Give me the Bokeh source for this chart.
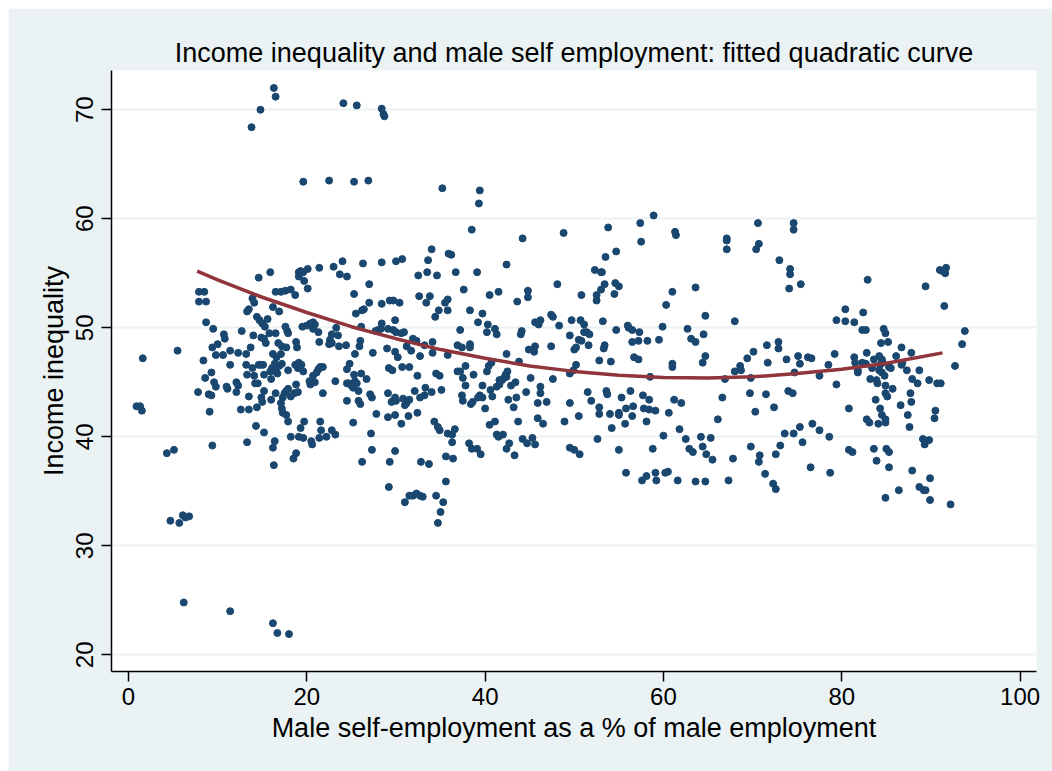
from bokeh.plotting import figure
from bokeh.models import Range1d, FixedTicker
from bokeh.embed import file_html
from bokeh.resources import INLINE

# ---- data ----
# top outliers
top_x = [16.3, 16.5, 14.8, 13.8, 24.1, 25.6, 28.4, 28.6, 28.7, 19.6, 22.5, 25.3, 26.9, 35.2]
top_y = [72.0, 71.2, 70.0, 68.4, 70.6, 70.4, 70.1, 69.6, 69.4, 63.4, 63.5, 63.4, 63.5, 62.8]

# left part, upper band
lu_x = [34.0, 35.9, 7.9, 8.5, 7.9, 8.7, 8.7, 9.5, 10.7, 10.8,
        1.6, 5.5, 8.4, 9.4, 10.0, 9.8, 10.6, 11.4, 12.3, 12.7,
        13.2, 13.7, 14.0, 13.3, 13.5, 13.9, 14.1, 14.4, 14.7, 15.0,
        14.6, 15.9, 15.6, 15.3, 15.8, 14.9, 15.2, 15.4, 16.2, 16.9,
        16.5, 17.1, 17.6, 18.2, 18.7, 16.5, 16.8, 17.2, 17.7, 16.2,
        16.6, 17.1, 17.6, 17.8, 17.9, 18.8, 18.9, 19.1, 19.3, 19.6,
        20.1, 19.1, 19.7, 20.1, 19.5, 20.0, 20.4, 20.7, 20.9, 21.3,
        20.7, 21.4, 23.0, 23.7, 24.5, 24.0, 26.3, 28.4, 30.0, 30.7,
        33.6, 32.5, 33.5, 34.6, 25.3, 27.0, 27.0, 28.4, 29.3, 29.7,
        30.4, 26.2, 26.4, 25.5, 28.4, 28.3, 28.0, 27.7, 29.9, 29.1,
        29.7, 30.0, 30.6, 30.9, 26.1, 23.3, 22.8, 23.5, 22.6, 22.5,
        22.8, 23.6, 24.4, 21.4, 26.0, 25.9, 25.4, 27.4, 29.0, 29.9,
        30.2, 31.2, 31.7, 31.9, 32.3, 32.7, 33.2, 34.1, 34.1, 35.8,
        32.6, 33.8, 33.4, 34.4, 34.8, 35.8, 35.5, 35.8]
lu_y = [57.2, 56.8, 53.3, 53.3, 52.4, 52.4, 50.5, 49.9, 49.4, 49.0,
        47.2, 47.9, 47.0, 48.2, 48.5, 47.5, 47.5, 47.9, 47.7, 49.7,
        47.6, 48.2, 49.3, 51.5, 51.7, 52.7, 52.3, 51.0, 50.7, 50.4,
        54.6, 55.1, 50.8, 50.1, 49.5, 49.1, 49.0, 48.6, 51.9, 51.5,
        53.3, 53.3, 53.4, 53.5, 53.0, 49.5, 48.6, 48.3, 48.2, 47.6,
        47.3, 47.6, 50.1, 49.7, 49.5, 48.7, 48.2, 55.1, 55.2, 55.1,
        55.4, 54.7, 54.3, 53.6, 50.1, 50.2, 50.4, 50.5, 50.3, 49.6,
        49.9, 55.5, 55.6, 54.9, 54.7, 56.1, 55.9, 56.0, 56.1, 56.3,
        56.2, 54.8, 55.1, 54.8, 53.1, 54.0, 52.3, 52.2, 52.5, 52.5,
        52.3, 51.6, 51.7, 51.3, 50.4, 49.9, 49.8, 49.7, 50.7, 49.9,
        49.8, 49.6, 49.5, 49.6, 50.1, 50.0, 49.4, 49.3, 48.9, 48.5,
        48.6, 48.3, 48.4, 48.7, 48.8, 48.3, 47.6, 47.7, 48.1, 47.8,
        47.3, 48.3, 47.9, 49.0, 48.8, 47.4, 48.4, 47.7, 48.7, 47.5,
        52.9, 52.9, 52.3, 51.0, 51.6, 51.6, 52.3, 52.6]

# left part, lower band
ll_x = [8.6, 9.3, 7.8, 9.6, 9.8, 9.0, 9.3, 9.1, 9.4, 11.0,
        11.1, 11.4, 12.1, 12.1, 12.3, 12.6, 13.3, 13.2, 13.5, 13.5,
        13.3, 13.9, 14.1, 14.2, 14.5, 14.3, 14.4, 14.6, 14.8, 15.1,
        14.9, 15.0, 15.2, 15.2, 15.2, 15.9, 16.1, 16.4, 16.0, 16.0,
        16.2, 16.4, 16.3, 16.5, 16.5, 16.7, 16.9, 17.2, 17.1, 17.3,
        17.5, 17.7, 17.9, 18.2, 18.6, 19.0, 17.2, 17.3, 17.7, 17.9,
        17.9, 18.2, 18.5, 18.8, 18.8, 18.7, 19.0, 19.1, 19.4, 19.6,
        19.3, 19.1, 19.6, 19.7, 20.3, 20.4, 20.5, 20.6, 20.7, 20.9,
        21.1, 21.3, 21.5, 21.8, 21.8, 21.4, 21.6, 22.2, 22.8, 23.2,
        21.5, 23.2, 24.5, 24.8, 24.5, 24.7, 25.0, 25.2, 25.4, 25.6,
        25.8, 25.3, 26.1, 26.7, 24.5, 25.8, 26.0, 25.2, 27.1, 27.3,
        27.2, 27.3, 26.2, 27.8, 29.1, 29.7, 29.9, 30.0, 29.5, 29.2,
        29.6, 30.7, 31.5, 29.1, 29.9, 30.6, 30.8, 31.0, 31.2, 31.5,
        31.4, 32.4, 32.1, 32.7, 33.2, 32.4, 33.3, 34.0, 34.5, 34.9,
        35.1, 34.3, 34.7, 34.9, 35.8, 35.6, 35.6, 29.9, 29.3, 32.8,
        33.7, 29.2, 31.0, 31.5, 31.9, 32.3, 32.7, 33.0, 34.5, 35.3, 35.0, 34.7]
ll_y = [45.4, 45.9, 44.1, 45.0, 44.6, 43.9, 43.8, 42.3, 39.2, 44.6,
        44.4, 46.6, 44.1, 45.0, 44.7, 42.5, 45.7, 46.6, 43.7, 42.5,
        39.5, 46.3, 45.6, 44.9, 44.9, 41.0, 42.7, 46.6, 46.6, 46.6,
        43.6, 43.2, 40.4, 44.2, 45.7, 46.0, 46.3, 46.7, 45.3, 43.4,
        39.0, 39.6, 37.4, 44.0, 46.0, 45.8, 46.5, 46.7, 43.1, 43.6,
        44.0, 44.2, 44.4, 43.7, 44.0, 44.1, 42.6, 42.2, 42.0, 41.4,
        46.1, 40.0, 38.0, 38.5, 44.8, 46.6, 46.3, 46.8, 46.6, 46.0,
        40.8, 40.0, 39.9, 41.4, 45.1, 44.8, 39.6, 39.3, 45.6, 45.0,
        45.9, 46.2, 46.4, 46.4, 44.0, 39.9, 40.6, 40.0, 40.6, 40.2,
        41.4, 45.1, 46.2, 46.7, 44.9, 44.9, 44.7, 44.5, 45.1, 44.9,
        44.2, 45.7, 45.8, 45.3, 43.3, 43.3, 43.0, 41.3, 43.9, 43.6,
        40.3, 38.8, 37.7, 42.1, 44.0, 43.3, 43.6, 43.3, 43.2, 46.3,
        46.1, 46.4, 46.4, 41.8, 42.0, 41.2, 43.5, 42.9, 43.1, 43.4,
        41.9, 42.2, 44.2, 43.6, 43.8, 45.6, 44.5, 44.1, 45.8, 45.6,
        44.3, 41.4, 40.9, 40.6, 40.3, 38.2, 35.9, 38.7, 37.7, 37.7,
        37.5, 35.4, 34.0, 34.6, 34.6, 34.8, 34.6, 34.5, 34.6, 34.0, 33.1, 32.1]

# low outliers on the left
low_x = [0.9, 1.3, 1.5, 4.3, 5.1, 4.7, 5.7, 6.1, 6.4, 6.8, 6.2, 11.4, 16.2, 16.7, 18.0]
low_y = [42.8, 42.8, 42.4, 38.5, 38.8, 32.3, 32.1, 32.8, 32.6, 32.7, 24.8, 24.0, 22.9, 22.0, 21.9]

# middle part
mid_x = [39.4, 39.3, 38.5, 44.2, 48.8, 53.8, 57.4, 57.5, 58.9, 61.3,
         61.4, 67.1, 67.1, 67.1, 70.6, 70.7, 70.4, 36.2, 36.7, 37.6,
         39.1, 42.4, 40.5, 41.5, 38.3, 39.7, 39.2, 37.2, 40.3, 40.2,
         41.3, 41.1, 43.6, 44.8, 44.8, 44.1, 44.0, 44.9, 45.5, 45.6,
         47.4, 47.6, 47.4, 48.1, 45.6, 46.0, 46.2, 48.3, 49.7, 49.5,
         50.0, 50.2, 50.5, 50.8, 50.7, 51.1, 51.1, 51.4, 51.7, 51.6,
         50.8, 52.5, 52.5, 52.3, 53.0, 53.1, 53.0, 53.4, 53.5, 54.6,
         55.0, 54.5, 54.7, 53.2, 54.7, 53.3, 53.4, 52.8, 54.1, 56.0,
         56.1, 56.5, 57.3, 56.5, 57.2, 58.2, 56.7, 57.2, 59.5, 59.9,
         58.5, 61.0, 61.0, 60.3, 61.0, 63.6, 62.7, 63.1, 63.6, 64.5,
         64.7, 64.4, 64.7, 68.0, 68.0, 68.6, 68.7, 69.4, 70.1, 71.6,
         71.7, 66.9, 69.8, 69.7, 71.5, 70.3, 66.6, 66.1, 69.8, 70.8,
         70.7, 71.4, 67.8, 67.3, 58.4, 57.7, 57.8, 58.4, 59.1, 60.6,
         61.2, 62.0, 60.0, 61.8, 62.5, 62.9, 63.3, 64.2, 64.4, 64.8,
         65.3, 65.5, 58.8, 55.8, 57.6, 58.1, 59.1, 59.2, 60.2, 60.5,
         61.6, 63.6, 64.7, 55.0, 55.3, 55.0, 55.0, 54.0, 54.2, 55.7,
         55.8, 56.6, 56.5, 56.3, 58.1, 53.6, 53.7, 52.8, 52.8, 51.5,
         51.9, 52.6, 50.5, 48.9, 49.5, 50.0, 50.6, 49.5, 49.5, 49.9,
         50.2, 47.6, 46.9, 46.2, 46.2, 45.9, 46.5, 45.9, 45.1, 44.6,
         43.7, 44.2, 44.7, 45.3, 45.6, 43.4, 43.5, 43.2, 42.4, 42.5,
         42.4, 41.9, 42.1, 42.3, 41.6, 41.3, 40.6, 40.8, 40.2, 40.4,
         40.7, 39.7, 39.4, 39.7, 39.2, 38.6, 38.4, 37.5, 37.4, 37.8,
         37.5, 37.2, 36.9, 38.7, 37.8, 36.9, 37.4, 38.3, 38.3, 36.3,
         36.3, 36.6, 36.4, 38.2, 38.5, 39.1, 39.5, 40.5, 41.1, 41.3,
         41.5, 42.0, 42.4, 42.7, 43.3, 42.6, 42.9, 40.0, 43.8, 41.6]
mid_y = [62.6, 61.4, 59.0, 58.2, 58.7, 59.2, 59.6, 57.9, 60.3, 58.8,
         58.5, 58.2, 58.0, 57.2, 59.6, 57.7, 57.2, 56.7, 55.1, 53.5,
         55.1, 55.8, 53.0, 53.3, 51.6, 51.3, 50.5, 49.8, 50.3, 49.6,
         49.4, 49.9, 52.4, 53.4, 52.8, 49.7, 49.4, 48.0, 47.8, 48.3,
         51.2, 51.0, 48.3, 54.0, 50.5, 50.3, 50.7, 50.2, 50.7, 49.3,
         48.0, 48.2, 48.9, 48.8, 50.7, 50.3, 49.6, 49.6, 49.4, 48.4,
         53.0, 53.0, 52.5, 55.3, 55.1, 55.1, 53.5, 54.0, 56.5, 54.1,
         53.8, 53.1, 57.0, 50.6, 49.8, 48.1, 48.4, 47.0, 46.9, 50.2,
         50.0, 49.8, 49.6, 48.7, 48.8, 48.8, 47.3, 47.1, 48.9, 50.1,
         45.5, 46.4, 46.7, 52.1, 53.3, 53.7, 49.9, 49.0, 48.7, 49.4,
         51.1, 46.8, 47.4, 50.6, 46.0, 46.5, 46.1, 47.2, 47.8, 48.4,
         46.8, 45.3, 45.4, 44.0, 43.9, 42.3, 43.6, 41.6, 39.1, 38.3,
         37.7, 36.6, 38.0, 36.0, 43.4, 43.8, 42.6, 42.5, 42.4, 42.2,
         43.4, 43.1, 40.1, 40.7, 39.8, 38.9, 38.6, 40.0, 39.1, 38.4,
         39.9, 37.9, 38.9, 36.7, 36.0, 36.4, 36.7, 36.0, 36.7, 36.8,
         36.0, 35.9, 35.9, 38.8, 43.6, 42.2, 42.0, 42.1, 40.8, 41.2,
         42.6, 42.8, 41.9, 44.2, 41.4, 44.2, 43.9, 42.7, 42.1, 44.1,
         43.3, 39.8, 41.9, 41.4, 39.0, 38.8, 38.4, 43.1, 45.8, 46.1,
         46.6, 45.3, 43.2, 44.0, 44.6, 43.1, 41.2, 41.7, 45.4, 44.1,
         41.4, 39.8, 39.4, 39.9, 39.3, 45.0, 43.6, 42.7, 47.6, 46.0,
         45.5, 45.2, 45.4, 45.7, 44.8, 44.6, 44.3, 43.7, 46.0, 46.5,
         46.8, 44.7, 43.8, 43.6, 43.6, 43.2, 43.0, 43.3, 43.8, 44.7,
         45.4, 46.0, 46.0, 45.7, 46.5, 48.4, 48.2, 48.5, 48.2, 39.5,
         40.2, 40.7, 38.0, 39.4, 38.9, 38.9, 38.4, 41.1, 41.4, 40.2,
         40.0, 40.2, 38.9, 39.4, 38.3, 43.4, 44.7, 42.6, 46.9, 45.2]

# right part
right_x = [74.6, 74.6, 73.0, 74.2, 74.2, 74.1, 75.4, 82.9, 89.4, 91.0,
           91.3, 91.7, 91.6, 91.5, 93.8, 93.5, 92.7, 80.4, 79.4, 80.4,
           81.4, 82.4, 82.3, 82.7, 84.7, 84.9, 84.4, 85.2, 86.7, 87.8,
           72.9, 72.9, 73.8, 75.1, 75.3, 74.7, 76.2, 76.6, 77.5, 78.5,
           79.2, 79.4, 81.4, 81.5, 81.8, 81.8, 82.3, 82.7, 82.8, 83.2,
           83.4, 83.6, 83.9, 84.0, 84.2, 84.5, 84.3, 84.6, 84.2, 84.5,
           84.8, 85.3, 85.5, 86.1, 86.7, 86.8, 87.3, 87.9, 88.5, 88.7,
           84.9, 85.7, 84.9, 85.1, 83.8, 84.3, 84.5, 84.9, 84.9, 84.1,
           82.8, 83.1, 86.6, 87.4, 87.8, 87.7, 87.6, 89.8, 90.7, 91.1,
           90.5, 90.4, 89.1, 89.3, 89.8, 83.6, 83.9, 85.0, 85.3, 85.3,
           87.9, 86.4, 84.9, 88.7, 89.2, 89.4, 89.9, 89.9, 92.2, 80.8,
           80.8, 81.2, 78.6, 78.7, 76.7, 77.5, 76.5, 75.3, 74.6, 73.6,
           75.6, 73.1, 72.6, 72.6, 72.3, 72.4, 74.0, 74.5]
right_y = [59.6, 59.0, 56.2, 55.4, 54.9, 53.6, 54.0, 54.4, 53.8, 55.3,
           55.2, 55.5, 55.0, 52.0, 49.7, 48.5, 46.5, 51.7, 50.7, 50.6,
           50.5, 51.4, 49.8, 49.8, 49.9, 49.5, 48.6, 48.7, 48.2, 47.7,
           48.7, 48.1, 47.1, 47.4, 46.7, 45.9, 47.3, 47.2, 45.6, 46.6,
           47.6, 44.8, 47.3, 46.8, 46.1, 45.9, 46.8, 46.7, 47.7, 45.3,
           46.3, 47.1, 45.2, 44.9, 47.4, 47.1, 46.6, 46.8, 46.1, 45.9,
           45.6, 46.4, 46.3, 47.4, 46.6, 46.8, 46.1, 45.3, 44.9, 46.1,
           44.7, 44.4, 44.0, 43.7, 43.4, 42.6, 42.0, 41.6, 41.3, 41.2,
           41.6, 41.3, 42.9, 42.0, 43.2, 44.0, 40.9, 45.2, 44.9, 44.9,
           42.4, 41.7, 39.8, 39.3, 39.7, 38.9, 37.8, 38.9, 38.6, 37.2,
           36.9, 35.1, 34.4, 35.4, 35.1, 35.1, 36.2, 34.2, 33.8, 42.6,
           38.8, 38.6, 40.0, 36.7, 41.2, 40.6, 37.2, 40.9, 40.3, 40.3,
           39.5, 39.2, 38.4, 35.2, 35.7, 42.7, 44.2, 44.0]

# fitted quadratic curve
fit_x = [7.7, 10, 15, 20, 25, 30, 35, 40, 45, 50, 55, 60, 65, 70, 75, 80, 85, 91.3]
fit_y = [55.2, 54.4, 52.8, 51.4, 50.1, 49.0, 48.0, 47.2, 46.5, 46.0, 45.65, 45.45, 45.4, 45.5, 45.8, 46.2, 46.75, 47.7]

x_ticks = [0, 20, 40, 60, 80, 100]
y_ticks = [20, 30, 40, 50, 60, 70]

self_emp = top_x + lu_x + ll_x + low_x + mid_x + right_x
inequality = top_y + lu_y + ll_y + low_y + mid_y + right_y

FONT = "Liberation Sans"
BG = "#eaf2f3"

p = figure(width=1044, height=763, output_backend="svg", toolbar_location=None,
           margin=(8, 0, 0, 8),
           x_range=Range1d(-1.907, 101.84), y_range=Range1d(18.47, 73.6),
           min_border_left=103, min_border_right=16, min_border_top=62, min_border_bottom=100,
           background_fill_color="white", border_fill_color=BG, outline_line_color=None,
           title="Income inequality and male self employment: fitted quadratic curve")

p.title.align = "center"
p.title.text_font = FONT
p.title.text_font_size = "27px"
p.title.text_font_style = "normal"
p.title.text_color = "black"
p.title.standoff = 6

p.xgrid.visible = False
p.ygrid.grid_line_color = BG
p.ygrid.grid_line_width = 2

p.xaxis.ticker = FixedTicker(ticks=x_ticks)
p.yaxis.ticker = FixedTicker(ticks=y_ticks)
for ax in (p.xaxis[0], p.yaxis[0]):
    ax.axis_line_color = "black"
    ax.axis_line_width = 1.5
    ax.major_tick_line_color = "black"
    ax.major_tick_line_width = 1.5
    ax.major_tick_out = 10
    ax.major_tick_in = 0
    ax.minor_tick_out = 0
    ax.minor_tick_in = 0
    ax.major_label_text_font = FONT
    ax.major_label_text_font_size = "24px"
    ax.major_label_text_color = "black"
    ax.axis_label_text_font = FONT
    ax.axis_label_text_font_size = "27px"
    ax.axis_label_text_font_style = "normal"
    ax.axis_label_text_color = "black"

p.xaxis.axis_label = "Male self-employment as a % of male employment"
p.yaxis.axis_label = "Income inequality"
p.yaxis.major_label_orientation = "parallel"
p.xaxis.major_label_standoff = 6
p.yaxis.major_label_standoff = 8
p.xaxis.axis_label_standoff = 5
p.yaxis.axis_label_standoff = 5

p.scatter(self_emp, inequality, size=7, fill_color="#1a476f", line_color="#1a476f")
p.line(fit_x, fit_y, line_width=3.5, line_color="#90353b")

open("out.html", "w").write(file_html(p, INLINE))
